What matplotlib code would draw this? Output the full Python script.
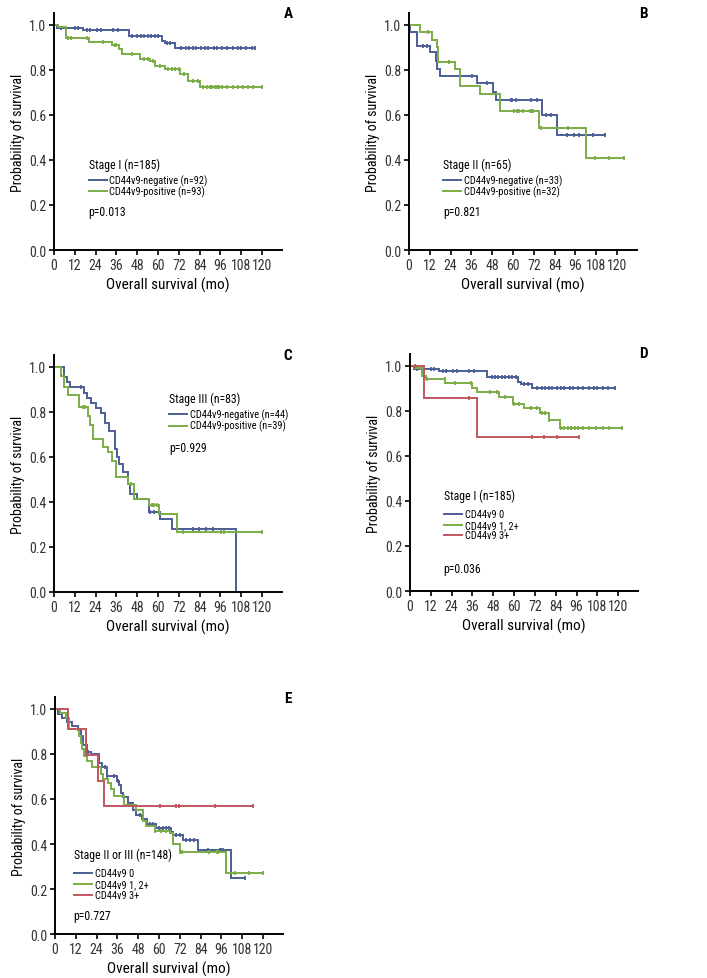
import numpy as np
import matplotlib
matplotlib.use("Agg")
import matplotlib.pyplot as plt

plt.rcParams['font.family'] = ['Roboto Condensed', 'Archivo Narrow', 'PT Sans Narrow',
                               'Liberation Sans Narrow', 'DejaVu Sans']

BLUE = '#4c5f96'
GREEN = '#7bad46'
RED = '#c0565f'

# ---- data (months, survival) ----
# A: stage I, CD44v9 negative / positive
a_neg_t = [2, 16.5, 43, 62.3, 64.2, 70]
a_neg_s = [0.988, 0.976, 0.953, 0.93, 0.919, 0.898]
a_neg_end = 116
a_neg_c = [4, 7, 12, 14, 19, 21, 25, 27, 34, 37, 45, 48, 50, 52, 54, 56, 58, 60, 65, 67,
           73, 76, 78, 80, 82, 85, 87, 89, 92, 94, 97, 100, 103, 106, 108, 111, 114, 116]
a_pos_t = [2.5, 6.7, 20, 33.5, 37.4, 39.3, 49.8, 55.6, 58.5, 64.2, 72.8, 77.5, 84.3]
a_pos_s = [0.989, 0.944, 0.923, 0.911, 0.893, 0.871, 0.849, 0.841, 0.819, 0.804, 0.782, 0.753, 0.723]
a_pos_end = 120
a_pos_c = [8, 10, 19, 28, 35, 36, 45, 52, 54, 57, 61, 66, 68, 70, 72, 75, 80, 83, 86, 88, 90,
           91, 93, 94, 95, 97, 100, 103, 106, 109, 112, 115, 120]

# B: stage II
b_neg_t = [0.5, 4.8, 12.2, 15.6, 16.4, 17.6, 39.2, 48.3, 49.9, 76.7, 85.2]
b_neg_s = [0.97, 0.908, 0.878, 0.84, 0.806, 0.775, 0.742, 0.70, 0.667, 0.60, 0.513]
b_neg_end = 113.2
b_neg_c = [8.3, 10.5, 29.6, 36.3, 45, 58.6, 59.5, 61.5, 70.2, 74, 78.8, 81.7, 91.4, 95.3, 98.2, 105.9, 113.2]
b_pos_t = [6.4, 13.1, 16, 17, 26.7, 29.6, 41.2, 52.3, 75, 102]
b_pos_s = [0.968, 0.935, 0.90, 0.834, 0.804, 0.73, 0.693, 0.619, 0.542, 0.407]
b_pos_end = 124
b_pos_c = [11.2, 22.8, 60.5, 62, 63.4, 65.9, 69.6, 70.7, 71.5, 76, 91.5, 107, 115.5, 124]

# C: stage III
c_neg_t = [5.8, 7.5, 9.4, 17.5, 19, 21.4, 24.4, 27.3, 29.2, 31.6, 35, 36.3, 37.3, 40, 42.5,
           44, 47.8, 54.6, 61.4, 68.2, 105.2]
c_neg_s = [0.955, 0.932, 0.909, 0.886, 0.864, 0.841, 0.818, 0.795, 0.75, 0.716, 0.636, 0.60,
           0.568, 0.534, 0.48, 0.437, 0.415, 0.356, 0.326, 0.281, 0.0]
c_neg_end = 105.2
c_neg_c = [15.6, 55.5, 57.5, 79.9, 83.8, 87.7, 91.6]
c_pos_t = [3.9, 5.5, 7.8, 14.6, 19.5, 20.5, 22.5, 28.3, 31, 33.5, 35.5, 42.9, 46.4, 55, 60.4, 71.1]
c_pos_s = [0.96, 0.911, 0.874, 0.822, 0.78, 0.74, 0.681, 0.644, 0.62, 0.58, 0.511, 0.48,
           0.415, 0.386, 0.345, 0.267]
c_pos_end = 120
c_pos_c = [16.5, 18, 44.5, 56.5, 57.5, 59.5, 74.5, 96.5, 98, 120]

# D: stage I by CD44v9 score
d_0_t = [2, 16.5, 44.6, 62.3, 64.2, 70.6]
d_0_s = [0.988, 0.976, 0.951, 0.93, 0.921, 0.90]
d_0_end = 118.4
d_0_c = [4, 7, 12, 14, 19, 21, 25, 27, 34, 37, 47, 49, 51, 53, 55, 57, 59, 61, 66, 68, 73, 76,
         78, 80, 82, 85, 87, 89, 92, 94, 97, 100, 103, 106, 108, 111, 114, 118.4]
d_12_t = [3, 6.8, 9, 20.4, 35.9, 38.5, 51.4, 59.2, 65.9, 75.1, 79.9, 86.3]
d_12_s = [0.99, 0.956, 0.941, 0.923, 0.904, 0.886, 0.864, 0.832, 0.815, 0.789, 0.759, 0.722]
d_12_end = 122
d_12_c = [10, 20, 26, 35, 46, 50, 55, 60, 63, 70, 73, 76, 78, 80, 87, 89, 91, 93, 95, 97, 100,
          103, 107, 111, 115, 122]
d_3_t = [7.8, 38.8]
d_3_s = [0.857, 0.686]
d_3_end = 97.6
d_3_c = [3, 34, 70.6, 77.3, 85, 97.6]

# E: stage II or III by CD44v9 score
e_0_t = [1.5, 4, 7, 10, 13, 15, 16, 18.5, 21, 25.5, 27, 30, 36, 37, 38, 39.5, 42, 45, 47, 50,
         53, 58, 67, 68, 73.8, 82.5, 101.3]
e_0_s = [0.978, 0.96, 0.94, 0.926, 0.91, 0.88, 0.84, 0.81, 0.80, 0.76, 0.74, 0.70, 0.68, 0.66,
         0.625, 0.61, 0.58, 0.55, 0.53, 0.51, 0.49, 0.47, 0.455, 0.44, 0.418, 0.375, 0.247]
e_0_end = 109.8
e_0_c = [13.5, 19, 29, 30, 34, 36.5, 49, 55, 56.5, 60, 62, 64, 66, 70, 72, 75.5, 78, 80, 88,
         95, 96, 97, 109.8]
e_12_t = [3, 6.4, 8, 14, 15, 15.6, 17, 18.5, 21.2, 26.6, 27.5, 30.4, 32.5, 34.3, 40, 46.8,
          50.7, 52.6, 57.4, 66.1, 68, 71.9, 98.8]
e_12_s = [0.98, 0.96, 0.91, 0.88, 0.85, 0.82, 0.79, 0.77, 0.74, 0.71, 0.69, 0.67, 0.645, 0.615,
          0.575, 0.55, 0.50, 0.48, 0.46, 0.45, 0.40, 0.365, 0.27]
e_12_end = 120
e_12_c = [57.4, 60.9, 64, 71.9, 73, 89, 93.4, 94.2, 103.7, 111.8, 120]
e_3_t = [7.3, 17.9, 25, 28.1]
e_3_s = [0.909, 0.795, 0.682, 0.568]
e_3_end = 114.3
e_3_c = [60.3, 70, 71.5, 92, 114.3]

xticks = [0, 12, 24, 36, 48, 60, 72, 84, 96, 108, 120]
yticks = [0.0, 0.2, 0.4, 0.6, 0.8, 1.0]


def km(ax, t, s, end, cens, color):
    xs = np.r_[0, t, end]
    ys = np.r_[1.0, s, s[-1]]
    ax.step(xs, ys, where='post', color=color, lw=1.4, solid_joinstyle='miter')
    cy = [np.r_[1.0, s][np.searchsorted(t, c, side='right')] for c in cens]
    ax.plot(cens, cy, ls='none', marker='|', ms=3.5, mew=1.3, color=color)


def setup(ax):
    ax.set_xlim(0, 131.5)
    ax.set_ylim(0, 1.053)
    for sp in ['top', 'right']:
        ax.spines[sp].set_visible(False)
    for sp in ['left', 'bottom']:
        ax.spines[sp].set_linewidth(1.4)
    ax.set_xticks(xticks)
    ax.set_yticks(yticks)
    ax.set_yticklabels(['%.1f' % v for v in yticks])
    ax.tick_params(length=3.5, width=1.2, labelsize=10, labelcolor='#333333', pad=2)
    ax.set_xlabel('Overall survival (mo)', fontsize=11, labelpad=3.5)
    ax.set_ylabel('Probability of survival', fontsize=10, labelpad=3)


def legend(ax, x, ytitle, title, labels, colors, ylines, xp, yp, ptext):
    ax.text(x, ytitle, title, fontsize=8.5, va='center', ha='left')
    for lab, col, yy in zip(labels, colors, ylines):
        ax.plot([x, x + 10.5], [yy, yy], color=col, lw=1.4)
        ax.text(x + 12, yy, lab, fontsize=7.5, va='center', ha='left')
    ax.text(xp, yp, ptext, fontsize=8.5, va='center', ha='left')


fig = plt.figure(figsize=(7.07, 9.79), dpi=100)
axA = fig.add_axes([0.0764, 0.7436, 0.3225, 0.2421])
axB = fig.add_axes([0.5785, 0.7436, 0.3225, 0.2421])
axC = fig.add_axes([0.0764, 0.3943, 0.3225, 0.2421])
axD = fig.add_axes([0.5800, 0.3953, 0.3225, 0.2421])
axE = fig.add_axes([0.0778, 0.0449, 0.3225, 0.2421])
for ax in [axA, axB, axC, axD, axE]:
    setup(ax)

km(axA, a_neg_t, a_neg_s, a_neg_end, a_neg_c, BLUE)
km(axA, a_pos_t, a_pos_s, a_pos_end, a_pos_c, GREEN)
legend(axA, 20, 0.382, 'Stage I (n=185)', ['CD44v9-negative (n=92)', 'CD44v9-positive (n=93)'],
       [BLUE, GREEN], [0.311, 0.262], 20, 0.17, 'p=0.013')

km(axB, b_neg_t, b_neg_s, b_neg_end, b_neg_c, BLUE)
km(axB, b_pos_t, b_pos_s, b_pos_end, b_pos_c, GREEN)
legend(axB, 19.5, 0.382, 'Stage II (n=65)', ['CD44v9-negative (n=33)', 'CD44v9-positive (n=32)'],
       [BLUE, GREEN], [0.31, 0.262], 19.5, 0.172, 'p=0.821')

km(axC, c_neg_t, c_neg_s, c_neg_end, c_neg_c, BLUE)
km(axC, c_pos_t, c_pos_s, c_pos_end, c_pos_c, GREEN)
legend(axC, 66.3, 0.859, 'Stage III (n=83)', ['CD44v9-negative (n=44)', 'CD44v9-positive (n=39)'],
       [BLUE, GREEN], [0.789, 0.739], 66.3, 0.641, 'p=0.929')

km(axD, d_0_t, d_0_s, d_0_end, d_0_c, BLUE)
km(axD, d_12_t, d_12_s, d_12_end, d_12_c, GREEN)
km(axD, d_3_t, d_3_s, d_3_end, d_3_c, RED)
legend(axD, 19.4, 0.424, 'Stage I (n=185)', ['CD44v9 0', 'CD44v9 1, 2+', 'CD44v9 3+'],
       [BLUE, GREEN, RED], [0.343, 0.294, 0.25], 19.4, 0.099, 'p=0.036')

km(axE, e_0_t, e_0_s, e_0_end, e_0_c, BLUE)
km(axE, e_12_t, e_12_s, e_12_end, e_12_c, GREEN)
km(axE, e_3_t, e_3_s, e_3_end, e_3_c, RED)
legend(axE, 10.8, 0.356, 'Stage II or III (n=148)', ['CD44v9 0', 'CD44v9 1, 2+', 'CD44v9 3+'],
       [BLUE, GREEN, RED], [0.271, 0.222, 0.173], 10.8, 0.084, 'p=0.727')

for letter, px, py in [('A', 288, 14), ('B', 643, 14), ('C', 288, 356), ('D', 643, 354), ('E', 288, 699)]:
    fig.text(px / 707, 1 - py / 979, letter, fontsize=11, fontweight='bold', ha='center', va='center')

fig.savefig('out.png', dpi=100)
